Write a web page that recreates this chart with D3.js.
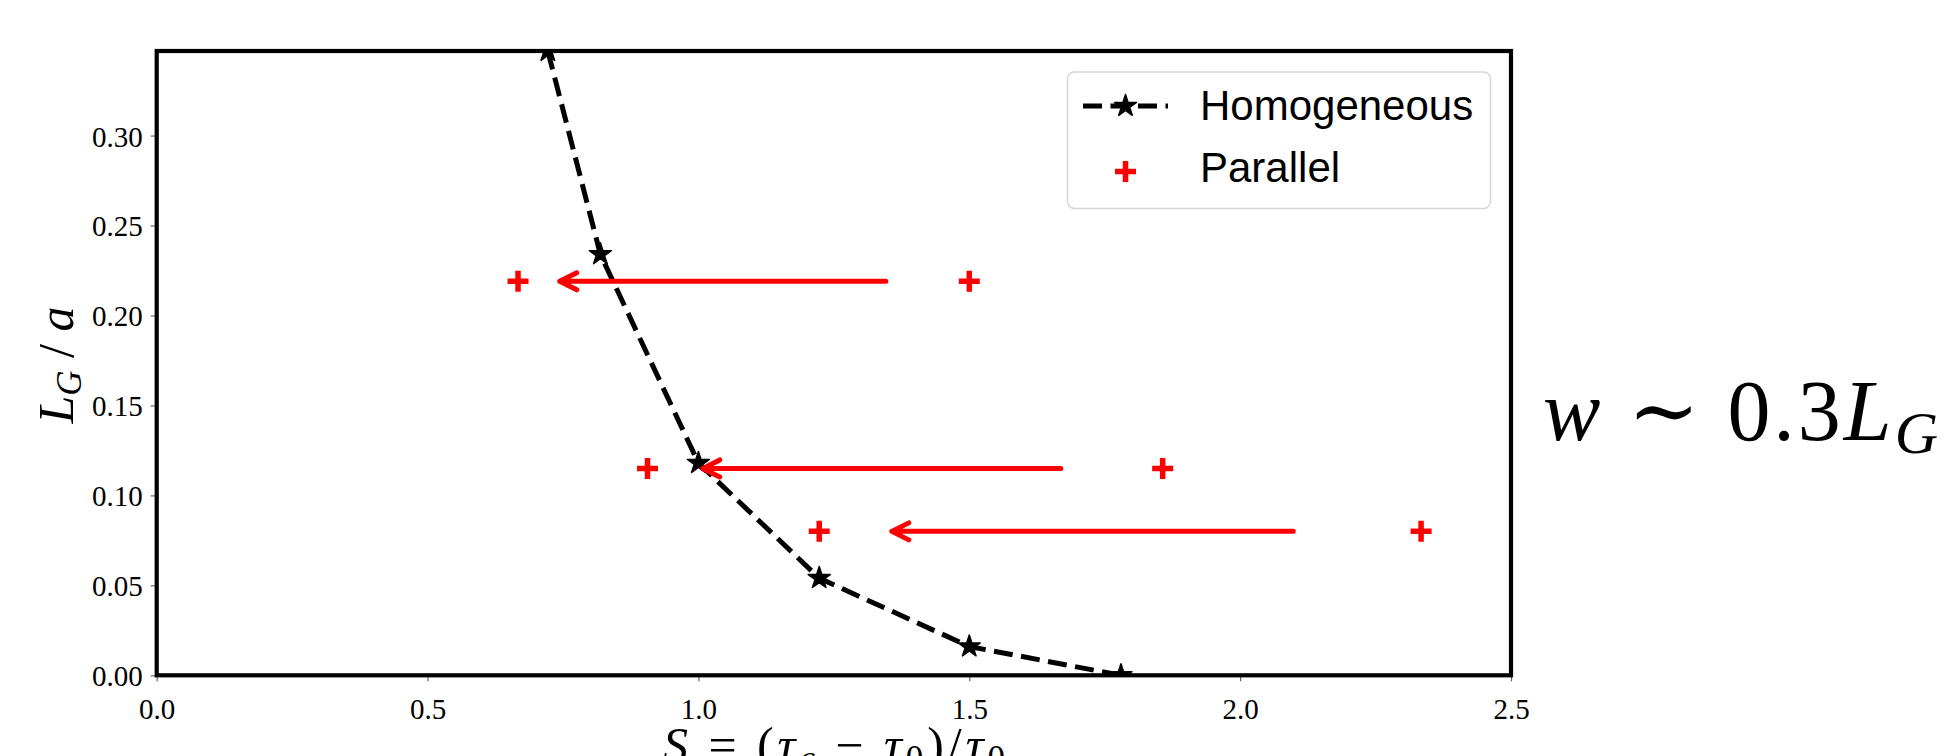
<!DOCTYPE html>
<html>
<head>
<meta charset="utf-8">
<script src="https://cdn.jsdelivr.net/npm/d3@7"></script>
<style>
  html, body { margin: 0; padding: 0; background: #fff; }
  svg { display: block; }
  .tick text { font-family: "Liberation Serif", "DejaVu Serif", serif; font-size: 29px; fill: #000; }
  .math { font-family: "Liberation Serif", "DejaVu Serif", serif; fill: #000; }
  .legend text { font-family: "Liberation Sans", Arial, sans-serif; font-size: 42px; fill: #000; }
</style>
</head>
<body>
<svg id="chart" width="1948" height="756"></svg>
<script>
// Homogeneous curve (black dashed, star markers)
const homX = [0.722, 0.819, 1.0, 1.223, 1.5, 1.78];
const homY = [0.347, 0.234, 0.118, 0.054, 0.016, 0.0];

// Parallel points (red plus)
const parX = [0.667, 1.5, 0.906, 1.857, 1.223, 2.334];
const parY = [0.219, 0.219, 0.115, 0.115, 0.08, 0.08];

// red arrows, right -> left
const arrowY = [0.219, 0.115, 0.08];
const arrowFrom = [1.346, 1.669, 2.098];
const arrowTo = [0.744, 1.008, 1.357];

const xTicks = [0, 0.5, 1.0, 1.5, 2.0, 2.5];
const yTicks = [0, 0.05, 0.10, 0.15, 0.20, 0.25, 0.30];

const m = { left: 156.7, right: 1511, top: 51, bottom: 675.3 };
const svg = d3.select("#chart");

const x = d3.scaleLinear().domain([0, 2.5]).range([m.left, m.right]);
const y = d3.scaleLinear().domain([0, 0.347]).range([m.bottom, m.top]);

svg.append("defs").append("clipPath").attr("id", "plot-clip")
  .append("rect")
  .attr("x", m.left).attr("y", m.top)
  .attr("width", m.right - m.left).attr("height", m.bottom - m.top);

// axes (ticks + labels); spines drawn separately
const xAxis = svg.append("g").attr("transform", `translate(0,${m.bottom})`)
  .call(d3.axisBottom(x).tickValues(xTicks).tickFormat(d3.format(".1f")).tickSize(6).tickPadding(17));
const yAxis = svg.append("g").attr("transform", `translate(${m.left},0)`)
  .call(d3.axisLeft(y).tickValues(yTicks).tickFormat(d3.format(".2f")).tickSize(6).tickPadding(8));
[xAxis, yAxis].forEach((g) => {
  g.select(".domain").remove();
  g.selectAll(".tick line").attr("stroke", "#666").attr("stroke-width", 1.2);
});
yAxis.selectAll(".tick text").attr("dy", "0.36em");

const plot = svg.append("g").attr("clip-path", "url(#plot-clip)");

// parallel: red plus markers
const plus = (cx, cy, r) => `M${cx - r},${cy}H${cx + r}M${cx},${cy - r}V${cy + r}`;
plot.selectAll("path.par")
  .data(parX.map((v, i) => [v, parY[i]]))
  .join("path")
  .attr("class", "par")
  .attr("d", (d) => plus(x(d[0]), y(d[1]), 10.5))
  .attr("stroke", "#ff0000").attr("stroke-width", 5.5).attr("fill", "none");

// arrows: shaft + open chevron head
const arrows = svg.append("g");
arrowY.forEach((v, i) => {
  const x1 = x(arrowFrom[i]), x2 = x(arrowTo[i]), yy = y(v);
  arrows.append("path")
    .attr("d", `M${x1},${yy}H${x2}M${x2 + 17},${yy - 8.5}L${x2},${yy}L${x2 + 17},${yy + 8.5}`)
    .attr("fill", "none").attr("stroke", "#ff0000").attr("stroke-width", 5)
    .attr("stroke-linecap", "round").attr("stroke-linejoin", "round");
});

// homogeneous: dashed line with stars
const homPts = homX.map((v, i) => [v, homY[i]]);
plot.append("path")
  .datum(homPts)
  .attr("d", d3.line().x((d) => x(d[0])).y((d) => y(d[1])))
  .attr("fill", "none").attr("stroke", "#000").attr("stroke-width", 5)
  .attr("stroke-dasharray", "19 8.5");
const star = d3.symbol().type(d3.symbolStar).size(150);
plot.selectAll("path.star")
  .data(homPts)
  .join("path")
  .attr("class", "star")
  .attr("transform", (d) => `translate(${x(d[0])},${y(d[1])})`)
  .attr("d", star)
  .attr("fill", "#000").attr("stroke", "#000").attr("stroke-width", 1.5)
  .attr("stroke-linejoin", "round");

// spines
svg.append("rect")
  .attr("x", m.left).attr("y", m.top)
  .attr("width", m.right - m.left).attr("height", m.bottom - m.top)
  .attr("fill", "none").attr("stroke", "#000").attr("stroke-width", 4.2);

// legend
const lg = svg.append("g").attr("class", "legend");
lg.append("rect")
  .attr("x", 1067.5).attr("y", 72).attr("width", 423).attr("height", 136.5)
  .attr("rx", 7).attr("fill", "#fff").attr("fill-opacity", 0.8)
  .attr("stroke", "#d6d6d6").attr("stroke-width", 1.5);
lg.append("line")
  .attr("x1", 1083).attr("x2", 1168).attr("y1", 106).attr("y2", 106)
  .attr("stroke", "#000").attr("stroke-width", 5).attr("stroke-dasharray", "19 8.5");
lg.append("path").attr("transform", "translate(1125.5,106)").attr("d", star)
  .attr("fill", "#000").attr("stroke", "#000").attr("stroke-width", 1.5).attr("stroke-linejoin", "round");
lg.append("path").attr("d", plus(1125.5, 171.5, 10.5))
  .attr("stroke", "#ff0000").attr("stroke-width", 5.5).attr("fill", "none");
lg.append("text").attr("x", 1200).attr("y", 120).text("Homogeneous");
lg.append("text").attr("x", 1200).attr("y", 181.5).text("Parallel");

// y label: L_G / a
const yl = svg.append("text").attr("class", "math")
  .attr("transform", "translate(73,365) rotate(-90)")
  .attr("text-anchor", "middle").attr("font-size", 50);
yl.append("tspan").attr("font-style", "italic").text("L");
yl.append("tspan").attr("font-style", "italic").attr("font-size", 35).attr("dy", 8).text("G");
yl.append("tspan").attr("dy", -8).text(" / ");
yl.append("tspan").attr("font-style", "italic").text("a");

// x label: S = (tau_c - tau_0)/tau_0
const xl = svg.append("text").attr("class", "math")
  .attr("x", 834).attr("y", 762).attr("text-anchor", "middle").attr("font-size", 50)
  .attr("textLength", 342).attr("lengthAdjust", "spacing");
xl.append("tspan").attr("font-style", "italic").text("S");
xl.append("tspan").text(" = (");
xl.append("tspan").attr("font-style", "italic").text("τ");
xl.append("tspan").attr("font-style", "italic").attr("font-size", 35).attr("dy", 8).text("c");
xl.append("tspan").attr("dy", -8).text(" − ");
xl.append("tspan").attr("font-style", "italic").text("τ");
xl.append("tspan").attr("font-size", 35).attr("dy", 8).text("0");
xl.append("tspan").attr("dy", -8).text(")/");
xl.append("tspan").attr("font-style", "italic").text("τ");
xl.append("tspan").attr("font-size", 35).attr("dy", 8).text("0");

// annotation on the right: w ~ 0.3 L_G
const wt = svg.append("text").attr("class", "math")
  .attr("x", 1543).attr("y", 440).attr("font-size", 86)
  .attr("textLength", 395).attr("lengthAdjust", "spacing");
wt.append("tspan").attr("font-style", "italic").text("w");
wt.append("tspan").text(" ∼ 0.3");
wt.append("tspan").attr("font-style", "italic").text("L");
wt.append("tspan").attr("font-style", "italic").attr("font-size", 60).attr("dy", 13).text("G");
</script>
</body>
</html>
